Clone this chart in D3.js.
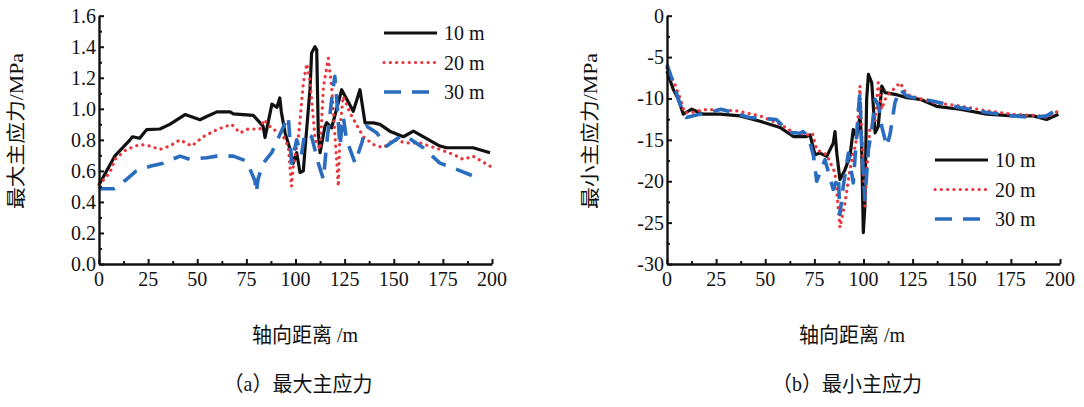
<!DOCTYPE html>
<html><head><meta charset="utf-8">
<script src="https://cdn.jsdelivr.net/npm/d3@7"></script>
<style>
html,body{margin:0;padding:0;background:#fff;}
svg{display:block;}
text{font-family:"Liberation Serif","Noto Sans CJK SC",serif;fill:#111;}
</style></head>
<body><svg id="c" width="1084" height="407"></svg>
<script>
// ---------- data ----------
const xTickLabels = ["0","25","50","75","100","125","150","175","200"];
const seriesNames = ["10 m","20 m","30 m"];
const seriesColors = ["#111111","#e8363c","#2a6cc0"];

// (a) maximum principal stress
const maxTickLabels = ["0.0","0.2","0.4","0.6","0.8","1.0","1.2","1.4","1.6"];
const max10x = [0,8,15.8,17,20.7,24.3,31,36,43.8,51.4,54.8,60,66.7,68.4,78.5,83.5,84.5,88,90.6,92,92.8,94.7,97.2,98.9,100.6,102.3,104,104.7,107.4,108.2,109.9,110.8,111.6,112.5,115,115.9,118.4,123.5,129.4,132.8,135.4,139.6,143,148,154.9,160,173.5,176.9,190.4,199];
const max10y = [0.51,0.695,0.80,0.82,0.81,0.866,0.87,0.90,0.963,0.93,0.95,0.98,0.98,0.967,0.958,0.888,0.815,1.03,1.01,1.07,0.98,0.845,0.74,0.65,0.717,0.59,0.60,0.717,1.13,1.36,1.40,1.38,0.845,0.717,0.888,0.91,0.877,1.123,0.984,1.123,0.909,0.909,0.90,0.856,0.82,0.856,0.76,0.749,0.749,0.717];
const max20x = [0,5.6,8.1,14,20.9,26,31,36,41.2,47.2,53,60,67.5,71.8,76,81.9,84,88,92.8,96.3,98,99,101.4,104,105.7,107.4,110,112.5,114.2,116.7,118.4,120,121.8,122.7,124.3,127.7,134.5,139.6,144.7,149.8,156.6,163.4,173.5,180.3,185.4,190.4,199];
const max20y = [0.51,0.59,0.674,0.738,0.77,0.76,0.738,0.76,0.80,0.76,0.82,0.866,0.90,0.845,0.87,0.87,0.93,0.87,0.845,0.76,0.50,0.65,0.80,1.166,1.29,1.18,0.80,0.738,1.14,1.326,1.14,0.845,0.50,0.888,1.08,0.974,0.82,0.77,0.749,0.80,0.78,0.78,0.738,0.706,0.674,0.695,0.63];
const max30x = [0,1,7.5,14,19,26,32.7,41.2,46.3,54.8,59.9,68.4,75.1,79.4,80,81,83.6,87.9,96.3,98,100.6,103,104.7,108.2,111.6,114.2,115.9,118.4,120,121,122.6,124.3,126,130.3,133.7,136.2,141.3,146.4,153.2,156.6,165,173.5,182,190.4,193.8];
const max30y = [0.50,0.485,0.485,0.545,0.60,0.63,0.65,0.695,0.674,0.685,0.695,0.695,0.663,0.535,0.46,0.55,0.65,0.717,0.952,0.65,0.80,0.70,0.845,0.82,0.65,0.545,0.78,1.06,1.21,1.06,0.76,0.95,0.80,0.65,0.78,0.888,0.845,0.76,0.82,0.82,0.749,0.65,0.61,0.567,0.545];

// (b) minimum principal stress
const minTickLabels = ["-30","-25","-20","-15","-10","-5","0"];
const min10x = [0,3.2,5.8,8.3,12.6,18.5,27,37.2,47.3,57.5,64.3,71,72.8,75.3,77.9,81.3,84.6,85.5,86.4,88,90.6,93.1,94.8,96.5,98.2,99,99.9,100.7,101.6,102.5,104.2,105.9,107.5,109.3,111,116,122,128.8,137.2,149,162.7,176.2,186.4,193.2,199.2];
const min10y = [-6.7,-8.9,-10.1,-11.9,-11.3,-11.9,-11.9,-12.1,-12.75,-13.5,-14.6,-14.6,-14.4,-16.8,-16.6,-17.0,-15.4,-14.0,-16.6,-19.8,-18.6,-17,-13.75,-14.6,-12.15,-14.9,-26.2,-23,-10.1,-7.1,-8.1,-14.15,-13.4,-8.5,-9.3,-9.5,-9.9,-10.1,-10.95,-11.3,-11.9,-12.1,-12.1,-12.55,-11.9];
const min20x = [0,3.7,6.3,8.9,12.6,18.5,25,35.4,47.3,57.5,64.3,71.9,74,76.2,81.3,85.5,88,90.6,93.1,96.5,98.2,99,100.7,101.6,103.3,105.9,107.5,109.3,111,113.5,118.6,122,127,135.5,149,162.7,176.2,189.8,193.2,199.2];
const min20y = [-6.3,-8.1,-9.7,-11.7,-11.7,-11.35,-11.35,-11.5,-12.1,-13.1,-14.1,-14.4,-14.2,-16.2,-16.8,-19,-25.6,-22.6,-18.6,-14.9,-8.5,-13.4,-23,-19,-13.4,-13,-8.1,-11.3,-10.1,-9.3,-8.1,-9.5,-9.9,-10.5,-10.9,-11.5,-11.9,-12.1,-12.3,-11.5];
const min30x = [0,3.2,6.3,9.8,16.5,21.6,27.5,33.5,42,55.6,62.4,67.7,69.2,72,74.6,76.2,80.4,84.6,87.2,88,89.7,92.3,94.8,97.4,98.2,99,100.7,102.5,104.2,105.9,107.6,109.3,111.9,113.6,116,118.6,122,125.4,135,149,162.7,176.2,186.4,193.2,198.4];
const min30y = [-5.9,-8.1,-10.5,-12.3,-11.9,-11.7,-11.3,-11.7,-12.3,-12.55,-14.1,-14.2,-14.0,-14.6,-17.0,-20.0,-17.4,-21,-19.4,-24,-20.6,-16.6,-20.2,-11.35,-9.3,-15.4,-22.2,-16.2,-13.8,-10.1,-10.9,-13.4,-15.8,-14.2,-10.5,-8.9,-9.7,-9.9,-10.3,-11.1,-11.7,-12.1,-12.3,-12.1,-11.35];

// ---------- drawing ----------
const svg = d3.select("#c");
const dashes = ["none","0.1,6.2","17,11"];
const widths = [3.2,3.2,3.6];

function zip(xs, ys){ return xs.map((x,i)=>[x, ys[i]]); }

function txt(g, x, y, s, anchor, size, sy){
  return g.append("text")
    .attr("transform", `translate(${x},${y}) scale(1,${sy||1.1})`)
    .attr("text-anchor", anchor).style("font-size", size+"px").text(s);
}

function panel(cfg){
  const g = svg.append("g");
  const x = d3.scaleLinear().domain([0,200]).range([cfg.x0, cfg.x0+393]);
  const y = d3.scaleLinear().domain(cfg.domain).range([264, 15.7]);

  // series
  const line = d3.line().x(d=>x(d[0])).y(d=>y(d[1]));
  cfg.series.forEach((s,i)=>{
    g.append("path").datum(s).attr("d", line)
      .attr("fill","none").attr("stroke", seriesColors[i])
      .attr("stroke-width", widths[i]).attr("stroke-dasharray", dashes[i])
      .attr("stroke-linecap", i===1 ? "round" : "butt")
      .attr("stroke-linejoin","round");
  });

  // x axis
  const xMajor = xTickLabels.map(Number);
  const xMinor = d3.range(12.5, 200, 25);
  const ax = g.append("g").attr("transform", `translate(0,264)`)
    .call(d3.axisBottom(x).tickValues(xMajor).tickSizeInner(-5).tickSizeOuter(0).tickFormat(""));
  g.append("g").attr("transform", `translate(0,264)`)
    .call(d3.axisBottom(x).tickValues(xMinor).tickSizeInner(-3).tickSizeOuter(0).tickFormat(""))
    .select(".domain").remove();
  xTickLabels.forEach((t,i)=> txt(g, x(xMajor[i]), 286, t, "middle", 20));

  // y axis
  const yMajor = cfg.labels.map(Number);
  const step = yMajor[1]-yMajor[0];
  const yMinor = yMajor.slice(0,-1).map(v=>v+step/2);
  g.append("g").attr("transform", `translate(${cfg.x0},0)`)
    .call(d3.axisLeft(y).tickValues(yMajor).tickSizeInner(-5).tickSizeOuter(0).tickFormat(""));
  g.append("g").attr("transform", `translate(${cfg.x0},0)`)
    .call(d3.axisLeft(y).tickValues(yMinor).tickSizeInner(-3).tickSizeOuter(0).tickFormat(""))
    .select(".domain").remove();
  cfg.labels.forEach((t,i)=> txt(g, cfg.x0-3, y(yMajor[i])+7, t, "end", 20));

  g.selectAll(".domain").attr("stroke","#111").attr("stroke-width",2.4);
  g.selectAll(".tick line").attr("stroke","#111").attr("stroke-width",2);

  // axis titles
  g.append("text")
    .attr("transform", `translate(${cfg.yTitleX},131) rotate(-90)`)
    .attr("text-anchor","middle").attr("dominant-baseline","central")
    .style("font-size","19px")
    .attr("textLength",156).attr("lengthAdjust","spacingAndGlyphs")
    .text(cfg.yTitle);
  txt(g, cfg.xTitleX, 342, "轴向距离 /m", "middle", 20, 1.05);
  txt(g, cfg.capX, 391, cfg.caption, "middle", 20, 1.05);

  // legend
  seriesNames.forEach((n,i)=>{
    const ly = cfg.legY + i*29.5;
    g.append("line").attr("x1", cfg.legX).attr("x2", cfg.legX+53)
      .attr("y1", ly).attr("y2", ly)
      .attr("stroke", seriesColors[i]).attr("stroke-width", widths[i])
      .attr("stroke-dasharray", dashes[i])
      .attr("stroke-linecap", i===1 ? "round" : "butt");
    txt(g, cfg.legX+60, ly+7, n, "start", 20);
  });
}

panel({
  x0: 99, domain: [0,1.6], labels: maxTickLabels,
  series: [zip(max10x,max10y), zip(max20x,max20y), zip(max30x,max30y)],
  yTitle: "最大主应力/MPa", yTitleX: 16, xTitleX: 305, capX: 298,
  caption: "（a）最大主应力", legX: 384, legY: 33
});
panel({
  x0: 667, domain: [-30,0], labels: minTickLabels,
  series: [zip(min10x,min10y), zip(min20x,min20y), zip(min30x,min30y)],
  yTitle: "最小主应力/MPa", yTitleX: 590, xTitleX: 852, capX: 847,
  caption: "（b）最小主应力", legX: 935, legY: 160
});
</script></body></html>
